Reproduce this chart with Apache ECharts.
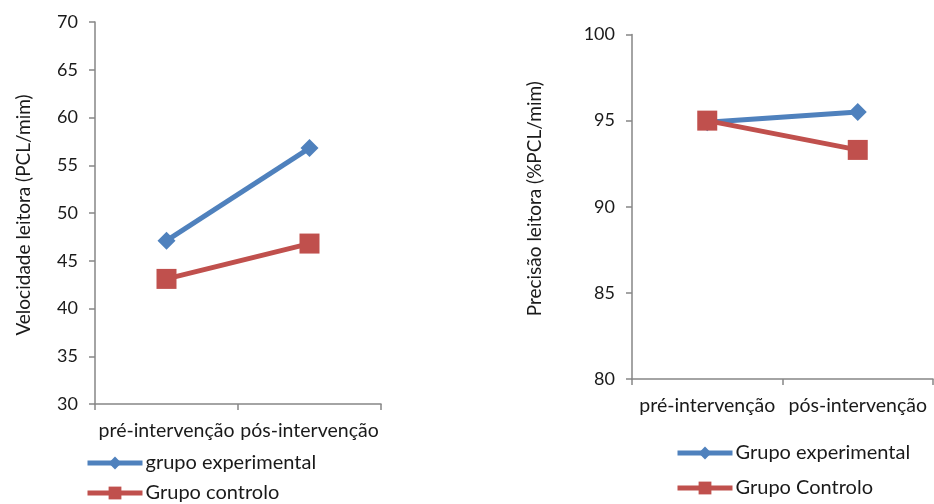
<!DOCTYPE html>
<html><head><meta charset="utf-8">
<script src="https://cdn.jsdelivr.net/npm/echarts@6/dist/echarts.min.js"></script>
<style>html,body{margin:0;padding:0;background:#fff}#c{width:934px;height:504px}</style>
</head><body><div id="c"></div>
<script>
const categories = ['pré-intervenção', 'pós-intervenção'];
const velExp = [47.1, 56.8];
const velCtrl = [43.1, 46.8];
const precExp = [94.9, 95.5];
const precCtrl = [95.0, 93.3];
const velTicks = [30, 70, 5];
const precTicks = [80, 100, 5];

const FONT = 'Lato';
const BLUE = '#4F81BD', RED = '#C0504D', AX = '#868686', TXT = '#1a1a1a';

function xAx(gi) {
  return {
    type: 'category', gridIndex: gi, data: categories, boundaryGap: true,
    axisLine: {lineStyle: {color: AX, width: 1.5}},
    axisTick: {show: true, length: 6, lineStyle: {color: AX, width: 1.5}},
    axisLabel: {color: TXT, fontFamily: FONT, fontSize: 19.5, margin: 17, interval: 0}
  };
}
function yAx(gi, t, name, gap, pad) {
  return {
    type: 'value', gridIndex: gi, min: t[0], max: t[1], interval: t[2],
    name: name, nameLocation: 'middle', nameGap: gap, nameRotate: 90,
    nameTextStyle: {color: TXT, fontFamily: FONT, fontSize: 19, padding: pad},
    axisLine: {show: true, lineStyle: {color: AX, width: 1.5}},
    axisTick: {show: true, length: 6, lineStyle: {color: AX, width: 1.5}},
    splitLine: {show: false},
    axisLabel: {color: TXT, fontFamily: FONT, fontSize: 18, margin: 17}
  };
}
function ser(name, data, gi, color, sym, size) {
  return {
    name: name, type: 'line', xAxisIndex: gi, yAxisIndex: gi, data: data,
    symbol: sym, symbolSize: size, showSymbol: true,
    lineStyle: {color: color, width: 5}, itemStyle: {color: color},
    animation: false
  };
}
function leg(names, left, top, gap) {
  return {
    data: names, orient: 'vertical', left: left, top: top, itemGap: gap, padding: 0,
    height: 70, itemWidth: 55, itemHeight: 16,
    lineStyle: {width: 5},
    textStyle: {color: TXT, fontFamily: FONT, fontSize: 20, padding: [0, 0, 0, -2]}
  };
}
const chart = echarts.init(document.getElementById('c'));
chart.setOption({
  backgroundColor: '#fff',
  animation: false,
  grid: [
    {left: 95, top: 22, width: 286, height: 382},
    {left: 632, top: 34.5, width: 301, height: 344.5}
  ],
  xAxis: [xAx(0), xAx(1)],
  yAxis: [
    yAx(0, velTicks, 'Velocidade leitora (PCL/mim)', 62, [0, 4, 0, 0]),
    yAx(1, precTicks, 'Precisão leitora (%PCL/mim)', 88, [0, 0, 0, 16])
  ],
  legend: [
    leg(['grupo experimental', 'Grupo controlo'], 85, 453, 10),
    leg(['Grupo experimental', 'Grupo Controlo'], 675, 443, 15)
  ],
  series: [
    ser('grupo experimental', velExp, 0, BLUE, 'diamond', 18),
    ser('Grupo controlo', velCtrl, 0, RED, 'rect', 20),
    ser('Grupo experimental', precExp, 1, BLUE, 'diamond', 18),
    ser('Grupo Controlo', precCtrl, 1, RED, 'rect', 20)
  ]
});
</script></body></html>
